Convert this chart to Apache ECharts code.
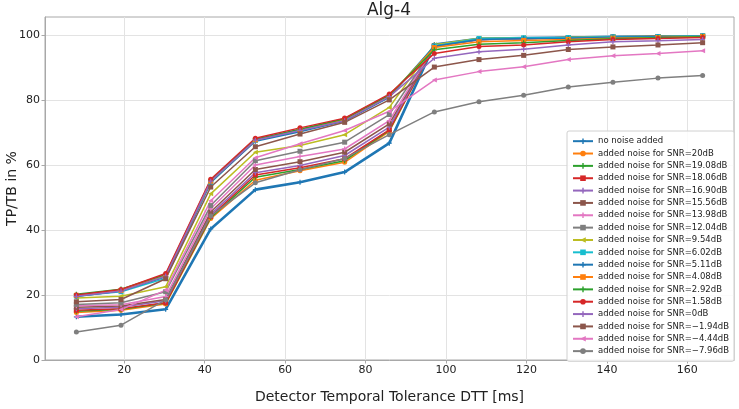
<!DOCTYPE html>
<html>
<head>
<meta charset="utf-8">
<script src="https://cdn.jsdelivr.net/npm/echarts@6/dist/echarts.min.js"></script>
<style>html,body{margin:0;padding:0;background:#fff}#c{width:739px;height:409px}</style>
</head>
<body>
<div id="c"></div>
<script>
const xValues = [8.1, 19.2, 30.3, 41.5, 52.6, 63.7, 74.8, 85.9, 97.1, 108.2, 119.3, 130.4, 141.5, 152.7, 163.8];
const xTicks = [20, 40, 60, 80, 100, 120, 140, 160];
const yTicks = [0, 20, 40, 60, 80, 100];

const seriesNames = [
  'no noise added',
  'added noise for SNR=20dB',
  'added noise for SNR=19.08dB',
  'added noise for SNR=18.06dB',
  'added noise for SNR=16.90dB',
  'added noise for SNR=15.56dB',
  'added noise for SNR=13.98dB',
  'added noise for SNR=12.04dB',
  'added noise for SNR=9.54dB',
  'added noise for SNR=6.02dB',
  'added noise for SNR=5.11dB',
  'added noise for SNR=4.08dB',
  'added noise for SNR=2.92dB',
  'added noise for SNR=1.58dB',
  'added noise for SNR=0dB',
  'added noise for SNR=\u22121.94dB',
  'added noise for SNR=\u22124.44dB',
  'added noise for SNR=\u22127.96dB'
];

const noNoise  = [13.3, 14.0, 15.6, 40.3, 52.4, 54.7, 57.8, 66.7, 97.0, 98.8, 99.0, 99.2, 99.4, 99.5, 99.6];
const snr20    = [14.6, 15.3, 17.2, 43.5, 55.3, 58.2, 60.8, 70.3, 96.8, 98.7, 99.0, 99.2, 99.4, 99.5, 99.6];
const snr19_08 = [15.0, 15.6, 17.5, 43.8, 56.2, 58.6, 61.3, 70.6, 96.8, 98.7, 99.0, 99.2, 99.4, 99.5, 99.6];
const snr18_06 = [15.3, 15.8, 17.6, 44.2, 56.9, 59.1, 61.9, 70.8, 96.7, 98.6, 98.9, 99.1, 99.3, 99.5, 99.6];
const snr16_90 = [15.8, 16.2, 18.2, 44.8, 57.6, 59.8, 62.9, 71.6, 96.7, 98.6, 98.9, 99.1, 99.3, 99.4, 99.6];
const snr15_56 = [16.2, 16.6, 18.6, 45.5, 58.6, 61.0, 63.9, 72.6, 96.6, 98.6, 98.9, 99.1, 99.3, 99.4, 99.6];
const snr13_98 = [16.7, 17.0, 19.5, 46.5, 60.0, 62.6, 64.9, 73.6, 96.5, 98.5, 98.9, 99.1, 99.3, 99.4, 99.6];
const snr12_04 = [17.1, 17.6, 21.0, 47.5, 61.3, 64.2, 67.0, 75.5, 96.4, 98.5, 98.9, 99.1, 99.3, 99.4, 99.6];
const snr9_54  = [19.1, 19.6, 22.5, 51.1, 63.9, 66.0, 69.3, 77.7, 97.0, 99.0, 99.1, 99.2, 99.4, 99.5, 99.7];
const snr6_02  = [19.7, 21.0, 25.1, 54.5, 67.5, 70.5, 73.8, 81.0, 96.6, 98.9, 99.1, 99.2, 99.4, 99.5, 99.7];
const snr5_11  = [19.5, 21.2, 25.6, 54.7, 67.3, 70.2, 73.5, 80.8, 96.5, 98.6, 98.9, 99.0, 99.3, 99.4, 99.6];
const snr4_08  = [19.9, 21.4, 26.0, 55.0, 67.7, 70.8, 74.0, 81.2, 96.1, 97.9, 98.3, 98.6, 99.0, 99.2, 99.5];
const snr2_92  = [20.2, 21.8, 26.3, 55.3, 67.9, 71.0, 74.2, 81.5, 95.4, 97.1, 97.6, 98.3, 98.8, 99.1, 99.4];
const snr1_58  = [20.0, 21.7, 26.6, 55.6, 68.2, 71.4, 74.4, 81.8, 94.3, 96.4, 96.9, 97.9, 98.6, 98.9, 99.2];
const snr0     = [19.6, 21.2, 25.8, 55.0, 67.6, 70.6, 73.6, 81.0, 92.8, 94.8, 95.6, 96.9, 97.9, 98.2, 98.6];
const snrM1_94 = [17.9, 18.6, 25.0, 53.2, 65.6, 69.5, 73.1, 80.0, 90.1, 92.4, 93.7, 95.5, 96.3, 96.9, 97.6];
const snrM4_44 = [13.3, 15.5, 21.5, 49.0, 62.2, 66.5, 70.6, 76.5, 86.1, 88.7, 90.2, 92.4, 93.6, 94.3, 95.1];
const snrM7_96 = [8.6, 10.7, 18.5, 44.3, 54.5, 58.5, 62.0, 69.3, 76.3, 79.4, 81.4, 84.0, 85.4, 86.7, 87.5];

const seriesValues = [noNoise, snr20, snr19_08, snr18_06, snr16_90, snr15_56, snr13_98, snr12_04,
  snr9_54, snr6_02, snr5_11, snr4_08, snr2_92, snr1_58, snr0, snrM1_94, snrM4_44, snrM7_96];

const palette = ['#1f77b4','#ff7f0e','#2ca02c','#d62728','#9467bd','#8c564b','#e377c2','#7f7f7f','#bcbd22','#17becf'];
const PLUS = 'path://M3,0h2v3h3v2h-3v3h-2v-3h-3v-2h3z';
const TRI_L = 'path://M0,4L8,0L8,8Z';
const symbols = [PLUS, 'circle', PLUS, 'rect', PLUS, 'rect', PLUS, 'rect', TRI_L, 'rect',
  PLUS, 'rect', PLUS, 'circle', PLUS, 'rect', TRI_L, 'circle'];

const series = seriesNames.map((name, i) => ({
  name: name,
  type: 'line',
  data: xValues.map((x, j) => [x, seriesValues[i][j]]),
  symbol: symbols[i],
  symbolSize: 5,
  showSymbol: true,
  lineStyle: { width: i === 0 ? 2.6 : 1.5, color: palette[i % 10] },
  itemStyle: { color: palette[i % 10] },
  emphasis: { disabled: true },
  animation: false
}));

const chart = echarts.init(document.getElementById('c'), null, { renderer: 'canvas' });
chart.setOption({
  backgroundColor: '#fff',
  animation: false,
  title: {
    text: 'Alg-4', left: 389, top: 2, padding: 0, textAlign: 'center',
    textStyle: { fontFamily: 'DejaVu Sans', fontSize: 17, fontWeight: 'normal', color: '#222' }
  },
  grid: { left: 45, right: 5, top: 17, bottom: 49, containLabel: false, outerBoundsMode: 'none',
    show: true, borderColor: '#a8a8a8', borderWidth: 1, backgroundColor: 'transparent' },
  legend: {
    orient: 'vertical', left: 567, top: 131,
    data: seriesNames,
    itemWidth: 20, itemHeight: 7, itemGap: 0,
    padding: [4, 5, 4, 5],
    backgroundColor: 'rgba(255,255,255,0.85)', borderColor: '#d0d0d0', borderWidth: 1, borderRadius: 2,
    textStyle: { fontFamily: 'DejaVu Sans', fontSize: 8.5, color: '#222', lineHeight: 12.35 },
    selectedMode: false
  },
  xAxis: {
    type: 'value', min: 0.3, max: 171.6,
    name: 'Detector Temporal Tolerance DTT [ms]', nameLocation: 'middle', nameGap: 30, nameMoveOverlap: false,
    nameTextStyle: { fontFamily: 'DejaVu Sans', fontSize: 14, color: '#222' },
    axisLine: { show: true, lineStyle: { color: '#a8a8a8' } },
    axisTick: { show: true, length: 3.5, customValues: xTicks, lineStyle: { color: '#a8a8a8' } },
    axisLabel: { customValues: xTicks, margin: 5, fontFamily: 'DejaVu Sans', fontSize: 11, color: '#222' },
    splitLine: { show: true, lineStyle: { color: '#e3e3e3', width: 1 } }
  },
  yAxis: {
    type: 'value', min: 0, max: 105.5,
    name: 'TP/TB in %', nameLocation: 'middle', nameGap: 26, nameMoveOverlap: false,
    nameTextStyle: { fontFamily: 'DejaVu Sans', fontSize: 14, color: '#222' },
    axisLine: { show: true, lineStyle: { color: '#a8a8a8' } },
    axisTick: { show: true, length: 3.5, customValues: yTicks, lineStyle: { color: '#a8a8a8' } },
    axisLabel: { customValues: yTicks, margin: 5, fontFamily: 'DejaVu Sans', fontSize: 11, color: '#222' },
    splitLine: { show: true, lineStyle: { color: '#e3e3e3', width: 1 } }
  },
  series: series
});
</script>
</body>
</html>
